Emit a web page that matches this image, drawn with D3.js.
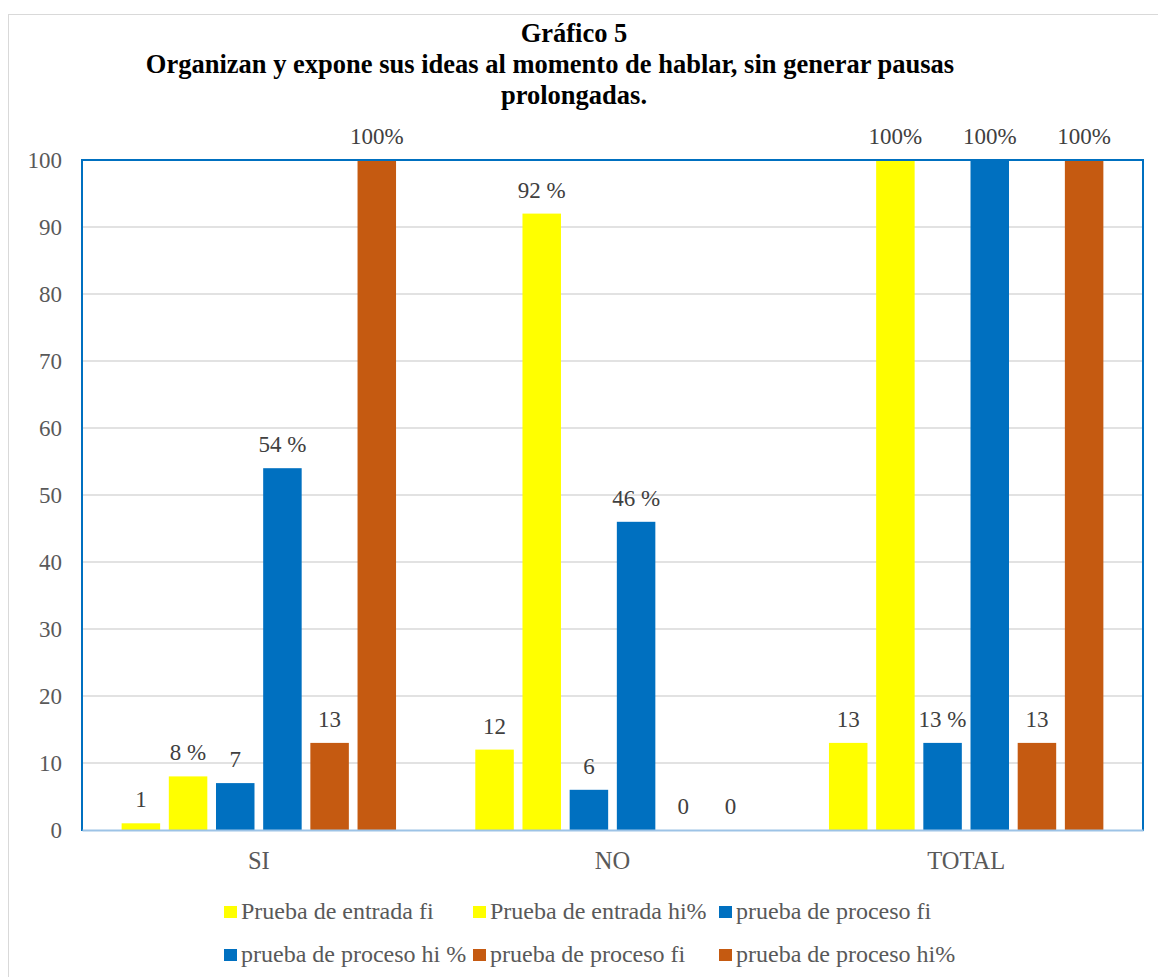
<!DOCTYPE html>
<html>
<head>
<meta charset="utf-8">
<script src="https://cdn.jsdelivr.net/npm/d3@7"></script>
</head>
<body style="margin:0">
<div id="viz"></div>
<script>
// data
let categories = ['SI', 'NO', 'TOTAL'];
let seriesNames = ['Prueba de entrada fi', 'Prueba de entrada hi%', 'prueba de proceso fi',
                   'prueba de proceso hi %', 'prueba de proceso fi', 'prueba de proceso hi%'];
let seriesColors = ['#ffff00', '#ffff00', '#0070c0', '#0070c0', '#c55a11', '#c55a11'];
let valuesSI = [1, 8, 7, 54, 13, 100];
let valuesNO = [12, 92, 6, 46, 0, 0];
let valuesTOTAL = [13, 100, 13, 100, 13, 100];
let labelsSI = ['1', '8 %', '7', '54 %', '13', '100%'];
let labelsNO = ['12', '92 %', '6', '46 %', '0', '0'];
let labelsTOTAL = ['13', '100%', '13 %', '100%', '13', '100%'];
let yTicks = [0, 10, 20, 30, 40, 50, 60, 70, 80, 90, 100];
let titleLines = ['Gráfico 5', 'Organizan y expone sus ideas al momento de hablar, sin generar pausas', 'prolongadas.'];

let allValues = [valuesSI, valuesNO, valuesTOTAL];
let allLabels = [labelsSI, labelsNO, labelsTOTAL];

let font = '"Liberation Serif"';

let data = [];
categories.forEach(function(c, ci){
  seriesNames.forEach(function(s, si){
    data.push({cat: c, s: si, v: allValues[ci][si], lab: allLabels[ci][si]});
  });
});

let width = 1158,
    height = 977,
    plotLeft = 82, plotRight = 1143, plotTop = 160, plotBottom = 830;

let svg = d3.select('#viz').append('svg')
    .attr('width', width)
    .attr('height', height)
    .style('font-family', font);

// outer chart border
svg.append('rect')
    .attr('x', 8.5).attr('y', 14.5)
    .attr('width', 1170).attr('height', 990)
    .attr('fill', 'none').attr('stroke', '#d9d9d9');

// title
svg.selectAll('text.title').data(titleLines)
  .enter().append('text')
    .attr('class', 'title')
    .attr('x', function(d, i){ return i == 1 ? 550 : 574; })
    .attr('y', function(d, i){ return 42 + i * 31; })
    .attr('text-anchor', 'middle')
    .style('font-family', font)
    .style('font-weight', 'bold')
    .style('font-size', '26.5px')
    .style('fill', '#000')
    .text(function(d){ return d; });

let yScale = d3.scaleLinear().domain([0, 100]).range([plotBottom, plotTop]);
let x0 = d3.scaleBand().domain(categories).range([plotLeft, plotRight]);
let x1 = d3.scaleBand().domain(d3.range(6))
    .range([0, x0.bandwidth()])
    .paddingInner(0.184)
    .paddingOuter(0.84);

// gridlines
svg.append('g').selectAll('line').data(yTicks.slice(1, -1))
  .enter().append('line')
    .attr('x1', plotLeft).attr('x2', plotRight)
    .attr('y1', function(d){ return yScale(d); })
    .attr('y2', function(d){ return yScale(d); })
    .attr('stroke', '#d9d9d9').attr('stroke-width', 1.5);

// y axis labels
let yAxis = d3.axisLeft(yScale).tickValues(yTicks).tickSize(0).tickPadding(20);
let yG = svg.append('g').attr('transform', 'translate(' + plotLeft + ',0)').call(yAxis);
yG.attr('font-family', null).attr('font-size', null);
yG.select('.domain').remove();
yG.selectAll('text')
    .style('font-family', font)
    .style('font-size', '23px')
    .style('fill', '#595959');

// bars
svg.append('g').selectAll('rect').data(data)
  .enter().append('rect')
    .attr('x', function(d){ return x0(d.cat) + x1(d.s); })
    .attr('width', x1.bandwidth())
    .attr('y', function(d){ return yScale(d.v); })
    .attr('height', function(d){ return plotBottom - yScale(d.v); })
    .style('fill', function(d){ return seriesColors[d.s]; });

// data labels
svg.append('g').selectAll('text').data(data)
  .enter().append('text')
    .attr('x', function(d){ return x0(d.cat) + x1(d.s) + x1.bandwidth() / 2; })
    .attr('y', function(d){ return yScale(d.v) - 16; })
    .attr('text-anchor', 'middle')
    .style('font-family', font)
    .style('font-size', '23px')
    .style('fill', '#404040')
    .text(function(d){ return d.lab; });

// plot border
svg.append('path')
    .attr('d', 'M' + plotLeft + ',' + (plotBottom + 1) + 'V' + plotTop + 'H' + plotRight + 'V' + (plotBottom + 1))
    .attr('fill', 'none').attr('stroke', '#0070c0').attr('stroke-width', 2);

// x axis
let xAxis = d3.axisBottom(x0).tickSize(0).tickPadding(22);
let xG = svg.append('g').attr('transform', 'translate(0,' + plotBottom + ')').call(xAxis);
xG.attr('font-family', null).attr('font-size', null);
xG.select('.domain').attr('stroke', '#9dc3e6').attr('stroke-width', 2);
xG.selectAll('text')
    .style('font-family', font)
    .style('font-size', '24.5px')
    .style('fill', '#595959');

// legend
let legX = [224, 473, 719],
    legY = [912, 955];
let legend = svg.append('g').selectAll('g').data(seriesNames)
  .enter().append('g')
    .attr('transform', function(d, i){
      return 'translate(' + legX[i % 3] + ',' + legY[Math.floor(i / 3)] + ')';
    });
legend.append('rect')
    .attr('x', 0).attr('y', -6)
    .attr('width', 13).attr('height', 12)
    .style('fill', function(d, i){ return seriesColors[i]; });
legend.append('text')
    .attr('x', 17).attr('y', 7)
    .style('font-family', font)
    .style('font-size', '24px')
    .style('fill', '#595959')
    .text(function(d){ return d; });
</script>
</body>
</html>
